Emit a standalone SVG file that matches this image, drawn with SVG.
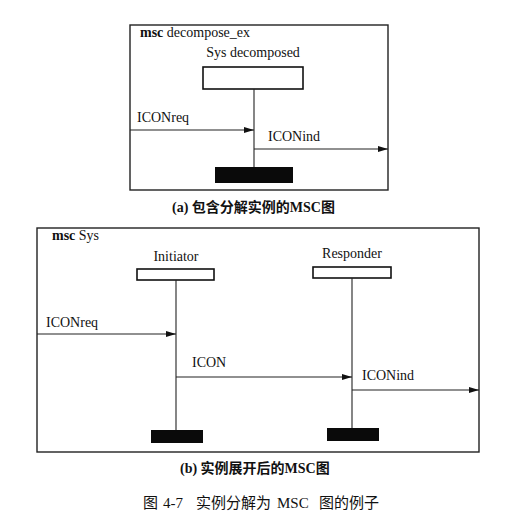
<svg xmlns="http://www.w3.org/2000/svg" width="516" height="525" viewBox="0 0 516 525">
<defs>
<marker id="arr" viewBox="0 0 10 6" refX="10" refY="3" markerWidth="10" markerHeight="6" markerUnits="userSpaceOnUse" orient="auto">
<path d="M0,0 L10,3 L0,6 Z" fill="#111"/>
</marker>
<style>
.frame{fill:none;stroke:#222;stroke-width:1.4}
.inst{fill:#fff;stroke:#111;stroke-width:1.6}
.life{stroke:#222;stroke-width:1.1}
.stop{fill:#0a0a0a}
.msg{stroke:#222;stroke-width:1.1;fill:none;marker-end:url(#arr)}
.t{font-family:"Liberation Serif","Noto Sans CJK SC",serif;font-size:14px;fill:#111}
.b{font-weight:bold}
.cap{font-family:"Liberation Serif","Noto Sans CJK SC",serif;font-size:14px;font-weight:bold;fill:#111}
.title{font-family:"Liberation Serif","Noto Sans CJK SC",serif;font-size:15px;fill:#111}
</style>
</defs>
<rect width="516" height="525" fill="#fff"/>

<g id="frame-a">
<rect class="frame" x="130" y="25" width="258" height="165"/>
<text class="t" x="140" y="37"><tspan class="b">msc</tspan> decompose_ex</text>
</g>
<g id="sys-decomposed">
<text class="t" x="253" y="57" text-anchor="middle">Sys decomposed</text>
<rect class="inst" x="203" y="67" width="100" height="22"/>
<line class="life" x1="254" y1="89" x2="254" y2="167"/>
<rect class="stop" x="215" y="167" width="78" height="16"/>
</g>
<g id="connectors-a">
<line class="msg" x1="130" y1="130" x2="254" y2="130"/>
<text class="t" x="137" y="122">ICONreq</text>
<line class="msg" x1="254" y1="149" x2="388" y2="149"/>
<text class="t" x="268" y="141">ICONind</text>
</g>
<text class="cap" x="172" y="212">(a) 包含分解实例的MSC图</text>

<g id="frame-b">
<rect class="frame" x="37" y="228" width="442" height="224"/>
<text class="t" x="52" y="240"><tspan class="b">msc</tspan> Sys</text>
</g>
<g id="initiator">
<text class="t" x="176" y="261" text-anchor="middle">Initiator</text>
<rect class="inst" x="137" y="269" width="77" height="11"/>
<line class="life" x1="176" y1="280" x2="176" y2="430"/>
<rect class="stop" x="151" y="430" width="52" height="13"/>
</g>
<g id="responder">
<text class="t" x="352" y="258" text-anchor="middle">Responder</text>
<rect class="inst" x="313" y="267" width="78" height="11"/>
<line class="life" x1="352" y1="278" x2="352" y2="428"/>
<rect class="stop" x="327" y="428" width="52" height="13"/>
</g>
<g id="connectors-b">
<line class="msg" x1="37" y1="334" x2="176" y2="334"/>
<text class="t" x="46" y="327">ICONreq</text>
<line class="msg" x1="176" y1="377" x2="352" y2="377"/>
<text class="t" x="192" y="367">ICON</text>
<line class="msg" x1="352" y1="390" x2="479" y2="390"/>
<text class="t" x="362" y="380">ICONind</text>
</g>
<text class="cap" x="180" y="473">(b) 实例展开后的MSC图</text>

<text class="title" y="508"><tspan x="143">图</tspan><tspan x="163">4-7</tspan><tspan x="196">实例分解为</tspan><tspan x="277">MSC</tspan><tspan x="319">图的例子</tspan></text>
</svg>
